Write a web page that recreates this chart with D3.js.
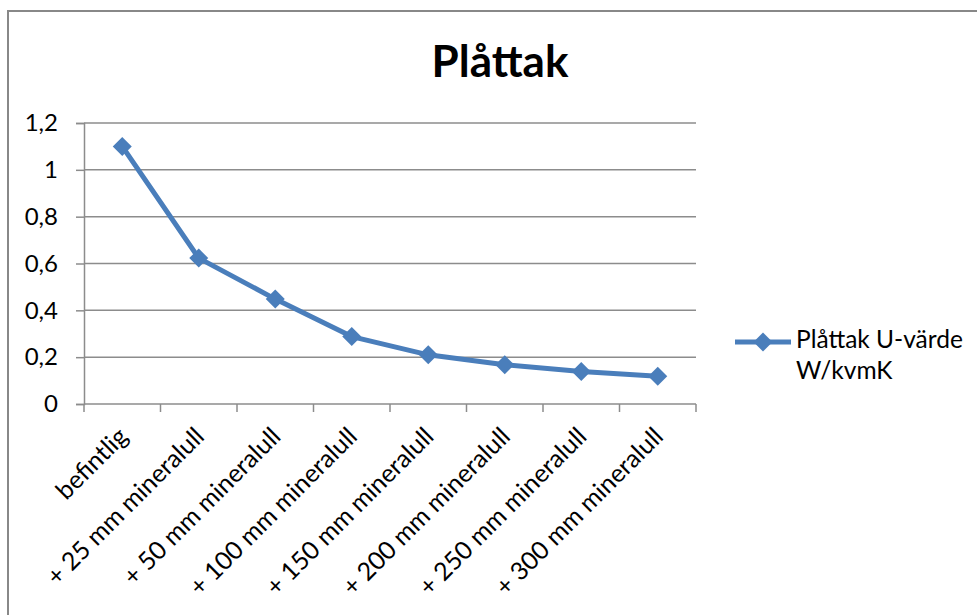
<!DOCTYPE html>
<html>
<head>
<meta charset="utf-8">
<script src="https://cdn.jsdelivr.net/npm/d3@7"></script>
<style>
  html, body { margin: 0; padding: 0; background: #fff; }
  svg { display: block; font-family: Lato, "Open Sans", sans-serif; }
</style>
</head>
<body>
<svg id="chart" width="977" height="615"></svg>
<script>
// U-värde per isoleringsalternativ
const categories = [
  "befintlig",
  "+ 25 mm mineralull",
  "+ 50 mm mineralull",
  "+ 100 mm mineralull",
  "+ 150 mm mineralull",
  "+ 200 mm mineralull",
  "+ 250 mm mineralull",
  "+ 300 mm mineralull"
];
const uValues = [1.1, 0.623, 0.448, 0.288, 0.21, 0.168, 0.139, 0.118];
const yTicks = [0, 0.2, 0.4, 0.6, 0.8, 1.0, 1.2];
const yTickLabels = ["0", "0,2", "0,4", "0,6", "0,8", "1", "1,2"];
const seriesName = ["Plåttak U-värde", "W/kvmK"];
const title = "Plåttak";

const svg = d3.select("#chart");
const W = 977, H = 615;
const plot = { left: 84, right: 696, top: 123, bottom: 404 };
const blue = "#4a7ebb";
const gridColor = "#8c8c8c";

// Chart frame
svg.append("rect")
  .attr("x", 8).attr("y", 11)
  .attr("width", W + 10).attr("height", H + 10)
  .attr("fill", "none")
  .attr("stroke", "#888").attr("stroke-width", 2);

const x = d3.scaleBand().domain(categories).range([plot.left, plot.right]);
const y = d3.scaleLinear().domain([0, 1.2]).range([plot.bottom, plot.top]);

// Horizontal gridlines
svg.append("g").selectAll("line")
  .data(yTicks.filter(d => d > 0))
  .join("line")
  .attr("x1", plot.left).attr("x2", plot.right)
  .attr("y1", d => y(d)).attr("y2", d => y(d))
  .attr("stroke", gridColor).attr("stroke-width", 1.5);

// Y axis
const yAxis = d3.axisLeft(y).tickValues(yTicks)
  .tickFormat((d, i) => yTickLabels[i]).tickSize(8).tickPadding(18);
const gy = svg.append("g").attr("transform", `translate(${plot.left},0)`).call(yAxis);
gy.select(".domain").attr("stroke", gridColor).attr("stroke-width", 1.5);
gy.selectAll(".tick line").attr("stroke", gridColor).attr("stroke-width", 1.5);
gy.selectAll(".tick text").attr("font-size", 24).attr("fill", "#000")
  .attr("font-family", "Lato, sans-serif");

// X axis with ticks on band edges
const gx = svg.append("g").attr("transform", `translate(0,${plot.bottom})`);
gx.append("line").attr("x1", plot.left).attr("x2", plot.right)
  .attr("stroke", gridColor).attr("stroke-width", 1.5);
const edges = categories.map(c => x(c)).concat([plot.right]);
gx.selectAll("line.tk").data(edges).join("line").attr("class", "tk")
  .attr("x1", d => d).attr("x2", d => d).attr("y1", 0).attr("y2", 8)
  .attr("stroke", gridColor).attr("stroke-width", 1.5);
gx.selectAll("text").data(categories).join("text")
  .attr("transform", d => `translate(${x(d) + x.bandwidth() / 2 + 7},${34}) rotate(-45)`)
  .attr("text-anchor", "end")
  .attr("font-size", 25)
  .attr("fill", "#000")
  .text(d => d);

// Series line and diamond markers
const line = d3.line()
  .x((d, i) => x(categories[i]) + x.bandwidth() / 2)
  .y(d => y(d));
svg.append("path").datum(uValues)
  .attr("d", line)
  .attr("fill", "none").attr("stroke", blue).attr("stroke-width", 5)
  .attr("stroke-linejoin", "round");
const diamond = d3.symbol().type(d3.symbolDiamond2).size(230);
svg.append("g").selectAll("path").data(uValues).join("path")
  .attr("transform", (d, i) => `translate(${x(categories[i]) + x.bandwidth() / 2},${y(d)})`)
  .attr("d", diamond)
  .attr("fill", blue);

// Title
svg.append("text")
  .attr("x", 500).attr("y", 77)
  .attr("text-anchor", "middle")
  .attr("font-size", 44).attr("font-weight", "bold").attr("fill", "#000")
  .text(title);

// Legend
const lg = svg.append("g");
lg.append("line").attr("x1", 735).attr("x2", 791).attr("y1", 342).attr("y2", 342)
  .attr("stroke", blue).attr("stroke-width", 5);
lg.append("path").attr("transform", "translate(763,342)").attr("d", diamond).attr("fill", blue);
lg.selectAll("text").data(seriesName).join("text")
  .attr("x", 796).attr("y", (d, i) => 348 + i * 31)
  .attr("font-size", 24.5).attr("fill", "#000")
  .text(d => d);
</script>
</body>
</html>
